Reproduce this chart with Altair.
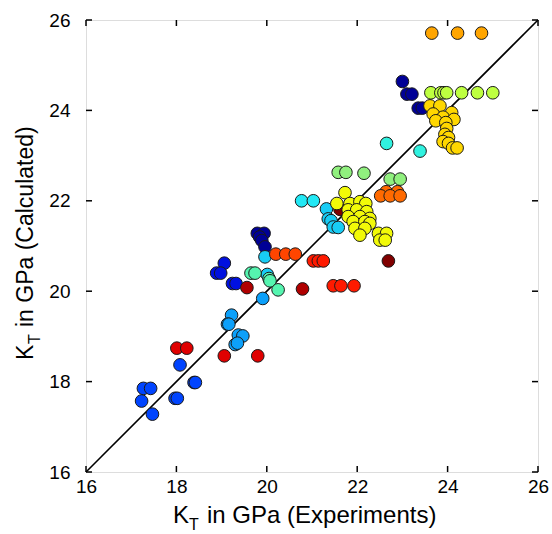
import altair as alt
import pandas as pd

# ---- data ----
groups = {
    "navy":      ("#000096", [(19.79, 21.28), (19.94, 21.28), (19.84, 21.20), (19.89, 21.12), (19.96, 20.98),
                              (23.00, 24.64), (23.10, 24.36), (23.21, 24.36), (23.35, 24.05), (23.44, 24.05)]),
    "blue":      ("#0010E0", [(19.06, 20.62), (18.89, 20.40), (18.98, 20.40), (19.24, 20.17), (19.32, 20.17)]),
    "blue2":     ("#0044FF", [(18.08, 18.37), (18.39, 17.98), (18.42, 17.98), (17.27, 17.85), (17.43, 17.85),
                              (17.23, 17.57), (17.97, 17.63), (18.02, 17.63), (17.47, 17.28)]),
    "lightblue": ("#0CA0FA", [(19.22, 19.47), (19.13, 19.27), (19.16, 19.27), (19.37, 19.03), (19.47, 19.01),
                              (19.30, 18.82), (19.35, 18.85), (19.91, 19.84)]),
    "deepcyan":  ("#18CCF5", [(19.96, 20.76), (20.01, 20.37), (21.32, 21.82), (21.36, 21.60), (21.42, 21.56),
                              (21.47, 21.42), (21.58, 21.41)]),
    "cyan":      ("#22E8F5", [(20.77, 22.00), (21.03, 22.00)]),
    "turquoise": ("#30F2E0", [(22.65, 23.27), (23.39, 23.10)]),
    "aqua":      ("#55F5B0", [(19.65, 20.40), (19.74, 20.40), (20.05, 20.28), (20.07, 20.23), (20.25, 20.03)]),
    "lightgreen": ("#90F07E", [(21.58, 22.63), (21.75, 22.63), (22.15, 22.61), (22.73, 22.48), (22.95, 22.48)]),
    "yellowgreen": ("#BEFF40", [(23.63, 24.39), (23.85, 24.39), (23.92, 24.39), (23.98, 24.39), (24.31, 24.39),
                                (24.66, 24.39), (25.00, 24.39)]),
    "darkred":   ("#B00000", [(19.56, 20.08), (20.79, 20.05)]),
    "maroon":    ("#800000", [(21.62, 21.81), (22.69, 20.67)]),
    "yellow":    ("#F2FA08", [(21.73, 22.18), (21.55, 21.94), (21.84, 21.94), (22.06, 21.98), (22.19, 21.94),
                              (21.80, 21.80), (21.99, 21.80), (22.21, 21.76), (21.80, 21.65), (22.06, 21.65),
                              (22.28, 21.61), (21.91, 21.54), (22.17, 21.54), (22.28, 21.50), (21.95, 21.39),
                              (22.17, 21.39), (22.06, 21.24), (22.47, 21.28), (22.65, 21.28), (22.50, 21.13),
                              (22.62, 21.13)]),
    "gold":      ("#FFD700", [(23.61, 24.10), (23.83, 24.10), (24.09, 23.95), (23.68, 23.92), (23.90, 23.85),
                              (24.14, 23.80), (23.74, 23.77), (23.96, 23.73), (23.98, 23.60), (23.94, 23.47),
                              (24.02, 23.40), (23.90, 23.31), (24.02, 23.27), (24.11, 23.17), (24.21, 23.17)]),
    "orange":    ("#FFA500", [(23.65, 25.71), (24.22, 25.71), (24.75, 25.71)]),
    "darkorange": ("#FF6A00", [(22.64, 22.20), (22.89, 22.20), (22.52, 22.11), (22.73, 22.11), (22.95, 22.11)]),
    "orangered": ("#FF4500", [(20.20, 20.82), (20.42, 20.82), (20.63, 20.82)]),
    "red":       ("#FF1A00", [(21.03, 20.67), (21.14, 20.67), (21.25, 20.67), (21.47, 20.12), (21.64, 20.12),
                              (21.93, 20.12)]),
    "red2":      ("#E00000", [(18.01, 18.74), (18.23, 18.74), (19.06, 18.57), (19.80, 18.57)]),
}

tick_values = [16, 18, 20, 22, 24, 26]
diag_x = [16, 26]
diag_y = [16, 26]

rows = []
for g, (c, pts) in groups.items():
    for x, y in pts:
        rows.append({"exp": x, "calc": y, "grp": g})
df = pd.DataFrame(rows)
df["idx"] = range(len(df))
dom = list(groups.keys())
rng = [groups[k][0] for k in dom]

F = "Liberation Sans"
W = H = 452
xs = alt.Scale(domain=[16, 26], nice=False, zero=False)
ys = alt.Scale(domain=[16, 26], nice=False, zero=False)

xaxis = alt.Axis(values=tick_values, title=None, ticks=False, domain=False, grid=False,
                 labelFlush=False, labelFont=F, labelFontSize=19, labelColor="black", labelPadding=5)
yaxis = alt.Axis(values=tick_values, title=None, ticks=False, domain=False, grid=False,
                 labelFlush=False, labelFont=F, labelFontSize=19, labelColor="black", labelPadding=16)

diag = alt.Chart(pd.DataFrame({"exp": diag_x, "calc": diag_y})).mark_line(
    color="black", strokeWidth=1.6).encode(
    x=alt.X("exp:Q", scale=xs, axis=xaxis),
    y=alt.Y("calc:Q", scale=ys, axis=yaxis))

pts = alt.Chart(df).mark_circle(size=160, opacity=1, stroke="#1a1a1a", strokeWidth=1).encode(
    x=alt.X("exp:Q", scale=xs),
    y=alt.Y("calc:Q", scale=ys),
    color=alt.Color("grp:N", scale=alt.Scale(domain=dom, range=rng), legend=None),
    order=alt.Order("idx:Q"))

tk = pd.DataFrame({"v": tick_values})
tb = alt.Chart(tk).mark_rule(color="black", strokeWidth=1.5).encode(
    x=alt.X("v:Q", scale=xs), y=alt.value(H), y2=alt.value(H - 6))
tt = alt.Chart(tk).mark_rule(color="black", strokeWidth=1.5).encode(
    x=alt.X("v:Q", scale=xs), y=alt.value(0), y2=alt.value(6))
tl = alt.Chart(tk).mark_rule(color="black", strokeWidth=1.5).encode(
    y=alt.Y("v:Q", scale=ys), x=alt.value(0), x2=alt.value(6))
tr = alt.Chart(tk).mark_rule(color="black", strokeWidth=1.5).encode(
    y=alt.Y("v:Q", scale=ys), x=alt.value(W), x2=alt.value(W - 6))

one = pd.DataFrame({"a": [0]})
def txt(s, x, y, size, angle=0):
    kw = dict(text=s, font=F, fontSize=size, align="left", baseline="alphabetic", color="black")
    if angle:
        kw["angle"] = angle
    return alt.Chart(one).mark_text(**kw).encode(x=alt.value(x), y=alt.value(y))

titles = [
    txt("K", 87, 503, 24),
    txt("T", 103, 510, 16),
    txt("in GPa (Experiments)", 121, 503, 24),
    txt("K", -53, 340, 23, 270),
    txt("T", -46, 324, 16, 270),
    txt("in GPa (Calculated)", -53, 307, 23, 270),
]

chart = alt.layer(diag, pts, tb, tt, tl, tr, *titles).properties(
    width=W, height=H,
    autosize=alt.AutoSizeParams(type="none"),
    padding={"left": 86, "top": 20, "right": 14, "bottom": 62},
).configure_view(stroke="black", strokeWidth=2.5).configure(background="white")

chart.save("out.html", embed_options={"renderer": "svg", "actions": False})
